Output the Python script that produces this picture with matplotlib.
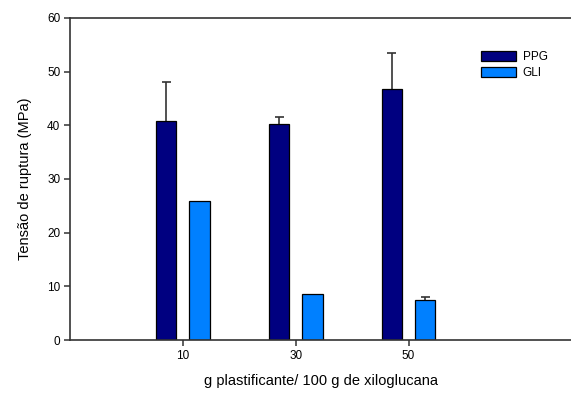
import numpy as np
import matplotlib
matplotlib.use("Agg")
from matplotlib import pyplot as plt

#%% Data
concentracao = [10, 30, 50]
ppg_media = [40.8, 40.3, 46.7]
ppg_desvio = [7.2, 1.2, 6.8]
gli_media = [25.8, 8.5, 7.5]
gli_desvio = [0.0, 0.0, 0.5]

plt.rcParams['font.family'] = ['Liberation Sans', 'DejaVu Sans']

#%% Plot
fig = plt.figure(figsize=(5.71, 3.96), dpi=100)
ax = fig.add_axes([0.1226, 0.1414, 0.8774, 0.8136])

x = np.array(concentracao, dtype=float)
largura = 3.65
desloc = 2.95

ax.bar(x - desloc, ppg_media, largura, color='#000080', edgecolor='black',
       linewidth=0.9, label='PPG', zorder=2)
ax.bar(x + desloc, gli_media, largura, color='#0080FF', edgecolor='black',
       linewidth=0.9, label='GLI', zorder=2)

# only the upper half of each error bar, with a cap on top
def barra_erro(xs, medias, desvios):
    for xi, m, d in zip(xs, medias, desvios):
        if d <= 0:
            continue
        ax.vlines(xi, m, m + d, color='#333333', linewidth=1.2, zorder=1)
        ax.hlines(m + d, xi - 0.8, xi + 0.8, color='#333333', linewidth=1.2, zorder=1)

barra_erro(x - desloc, ppg_media, ppg_desvio)
barra_erro(x + desloc, gli_media, gli_desvio)

ax.set_xlim(-10, 78.8)
ax.set_ylim(0, 60)
ax.set_xticks(concentracao)
ax.set_yticks(range(0, 61, 10))
ax.tick_params(direction='out', length=4, width=1.1, color='#333333',
               labelsize=8.5, pad=3)

for lado in ['left', 'bottom', 'top']:
    ax.spines[lado].set_color('#333333')
    ax.spines[lado].set_linewidth(1.2)
ax.spines['right'].set_visible(False)

ax.set_xlabel('g plastificante/ 100 g de xiloglucana', fontsize=10.5, labelpad=9)
ax.set_ylabel('Tensão de ruptura (MPa)', fontsize=10.5, labelpad=11)

ax.legend(loc='upper left', bbox_to_anchor=(0.8, 0.93), frameon=False,
          fontsize=8.5, handlelength=2.9, handleheight=0.9, handletextpad=0.6,
          labelspacing=0.35)

fig.savefig('out.png', dpi=100)
